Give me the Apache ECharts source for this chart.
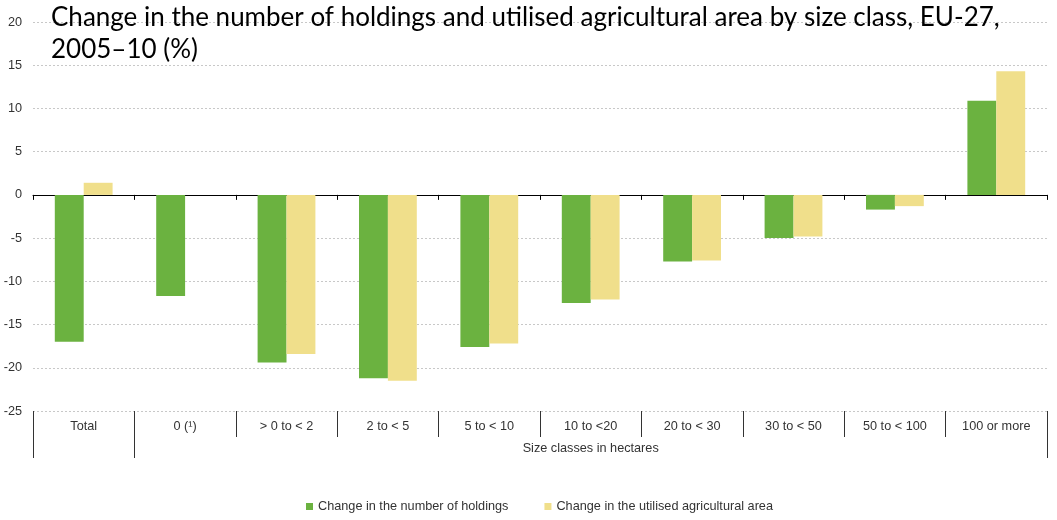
<!DOCTYPE html>
<html>
<head>
<meta charset="utf-8">
<script src="https://cdn.jsdelivr.net/npm/echarts@6/dist/echarts.min.js"></script>
<style>
  html, body { margin: 0; padding: 0; background: #fff; }
  #chart { width: 1057px; height: 520px; }
</style>
</head>
<body>
<div id="chart"></div>
<script>
// Size classes (hectares of utilised agricultural area)
const categories = ['Total', '0 (\u00b9)', '> 0 to < 2', '2 to < 5', '5 to < 10', '10 to <20', '20 to < 30', '30 to < 50', '50 to < 100', '100 or more'];

// Change 2005-10, %
const holdingsChange = [-17.0, -11.7, -19.4, -21.2, -17.6, -12.5, -7.7, -5.0, -1.7, 10.9];
const areaChange = [1.4, null, -18.4, -21.5, -17.2, -12.1, -7.6, -4.8, -1.3, 14.3];

const seriesNames = ['Change in the number of holdings', 'Change in the utilised agricultural area'];
const groupLabel = 'Size classes in hectares';
const titleText = 'Change in the number of holdings and utilised agricultural area by size class, EU-27,\n2005\u201310 (%)';

const chart = echarts.init(document.getElementById('chart'));
const labelFont = { fontFamily: 'Liberation Sans, Arial, sans-serif', fontSize: 12.7, color: '#333' };

chart.setOption({
  animation: false,
  title: {
    text: titleText,
    left: 51,
    top: 2,
    padding: 0,
    textStyle: { fontFamily: 'Lato', fontSize: 26, fontWeight: 'normal', color: '#000', lineHeight: 32 }
  },
  legend: {
    bottom: 7,
    left: 306,
    padding: 0,
    itemWidth: 7,
    itemHeight: 7,
    itemGap: 36,
    icon: 'rect',
    textStyle: labelFont,
    data: seriesNames
  },
  grid: { left: 33, right: 10, top: 22, bottom: 109 },
  xAxis: [
    {
      // baseline at zero
      type: 'category',
      data: categories,
      axisLine: { onZero: true, onZeroAxisIndex: 0, lineStyle: { color: '#000', width: 1 } },
      axisTick: { show: true, length: 5, lineStyle: { color: '#000' } },
      axisLabel: { show: false },
      splitLine: { show: false }
    },
    {
      // category labels under the plot
      type: 'category',
      data: categories,
      position: 'bottom',
      axisLine: { show: false, onZero: false },
      axisTick: { show: true, length: 26, lineStyle: { color: '#333' } },
      axisLabel: Object.assign({ margin: 9, interval: 0 }, labelFont),
      splitLine: { show: false }
    },
    {
      // grouping bracket for the size classes
      type: 'value',
      min: 0,
      max: 10,
      position: 'bottom',
      axisLine: { show: false, onZero: false },
      axisTick: { show: true, length: 47, customValues: [0, 1, 10], lineStyle: { color: '#333' } },
      axisLabel: Object.assign({ margin: 31, customValues: [5.5], formatter: () => groupLabel }, labelFont),
      splitLine: { show: false }
    }
  ],
  yAxis: {
    type: 'value',
    min: -25,
    max: 20,
    interval: 5,
    axisLine: { show: false, onZero: false },
    axisTick: { show: false },
    axisLabel: Object.assign({ margin: 11 }, labelFont),
    splitLine: { lineStyle: { type: [2, 2], color: '#c8c8c8', width: 1 } }
  },
  series: [
    {
      name: seriesNames[0],
      type: 'bar',
      xAxisIndex: 0,
      data: holdingsChange,
      itemStyle: { color: '#6bb240' },
      barGap: '0%',
      barCategoryGap: '43%'
    },
    {
      name: seriesNames[1],
      type: 'bar',
      xAxisIndex: 0,
      data: areaChange,
      itemStyle: { color: '#f0df8b' },
      barGap: '0%',
      barCategoryGap: '43%'
    }
  ]
});
</script>
</body>
</html>
